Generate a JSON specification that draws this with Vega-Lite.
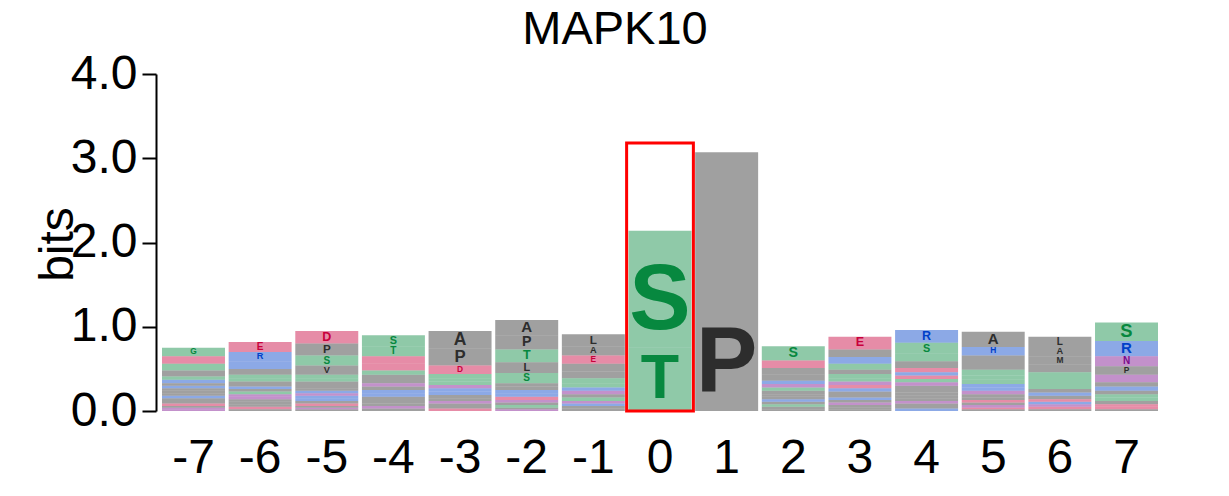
{
  "$schema": "https://vega.github.io/schema/vega-lite/v6.json",
  "width": 1008,
  "height": 337,
  "autosize": {"type": "none"},
  "padding": {"left": 156, "top": 74, "right": 65, "bottom": 85},
  "background": "white",
  "config": {"view": {"stroke": null}, "font": "Liberation Sans"},
  "title": {"text": "MAPK10", "fontSize": 47, "font": "Liberation Sans", "fontWeight": "normal", "color": "black", "anchor": "middle", "dx": -45, "baseline": "alphabetic", "offset": -41},
  "datasets": {
    "logo": [
      {"pos": -7, "aa": "G", "bits": 0.10}, {"pos": -7, "aa": "D", "bits": 0.09}, {"pos": -7, "aa": "S", "bits": 0.08}, {"pos": -7, "aa": "V", "bits": 0.07},
      {"pos": -7, "aa": "E", "bits": 0.03}, {"pos": -7, "aa": "L", "bits": 0.03}, {"pos": -7, "aa": "A", "bits": 0.03}, {"pos": -7, "aa": "K", "bits": 0.04},
      {"pos": -7, "aa": "R", "bits": 0.03}, {"pos": -7, "aa": "I", "bits": 0.03}, {"pos": -7, "aa": "P", "bits": 0.03}, {"pos": -7, "aa": "F", "bits": 0.03},
      {"pos": -7, "aa": "H", "bits": 0.03}, {"pos": -7, "aa": "N", "bits": 0.02}, {"pos": -7, "aa": "T", "bits": 0.04}, {"pos": -7, "aa": "Q", "bits": 0.02},
      {"pos": -7, "aa": "W", "bits": 0.02}, {"pos": -7, "aa": "M", "bits": 0.03},

      {"pos": -6, "aa": "E", "bits": 0.12}, {"pos": -6, "aa": "R", "bits": 0.11}, {"pos": -6, "aa": "K", "bits": 0.09}, {"pos": -6, "aa": "L", "bits": 0.07},
      {"pos": -6, "aa": "D", "bits": 0.03}, {"pos": -6, "aa": "P", "bits": 0.03}, {"pos": -6, "aa": "S", "bits": 0.04}, {"pos": -6, "aa": "V", "bits": 0.03},
      {"pos": -6, "aa": "A", "bits": 0.03}, {"pos": -6, "aa": "N", "bits": 0.03}, {"pos": -6, "aa": "Q", "bits": 0.03}, {"pos": -6, "aa": "G", "bits": 0.04},
      {"pos": -6, "aa": "T", "bits": 0.03}, {"pos": -6, "aa": "I", "bits": 0.03}, {"pos": -6, "aa": "W", "bits": 0.02}, {"pos": -6, "aa": "H", "bits": 0.03},
      {"pos": -6, "aa": "F", "bits": 0.03}, {"pos": -6, "aa": "M", "bits": 0.03},

      {"pos": -5, "aa": "D", "bits": 0.15}, {"pos": -5, "aa": "P", "bits": 0.14}, {"pos": -5, "aa": "S", "bits": 0.12}, {"pos": -5, "aa": "V", "bits": 0.11},
      {"pos": -5, "aa": "L", "bits": 0.04}, {"pos": -5, "aa": "A", "bits": 0.04}, {"pos": -5, "aa": "E", "bits": 0.03}, {"pos": -5, "aa": "I", "bits": 0.03},
      {"pos": -5, "aa": "G", "bits": 0.04}, {"pos": -5, "aa": "K", "bits": 0.03}, {"pos": -5, "aa": "T", "bits": 0.04}, {"pos": -5, "aa": "R", "bits": 0.03},
      {"pos": -5, "aa": "F", "bits": 0.02}, {"pos": -5, "aa": "Q", "bits": 0.02}, {"pos": -5, "aa": "N", "bits": 0.03}, {"pos": -5, "aa": "H", "bits": 0.03},
      {"pos": -5, "aa": "M", "bits": 0.03}, {"pos": -5, "aa": "W", "bits": 0.02},

      {"pos": -4, "aa": "S", "bits": 0.13}, {"pos": -4, "aa": "T", "bits": 0.12}, {"pos": -4, "aa": "D", "bits": 0.09}, {"pos": -4, "aa": "E", "bits": 0.08},
      {"pos": -4, "aa": "A", "bits": 0.05}, {"pos": -4, "aa": "P", "bits": 0.05}, {"pos": -4, "aa": "L", "bits": 0.04}, {"pos": -4, "aa": "G", "bits": 0.05},
      {"pos": -4, "aa": "V", "bits": 0.04}, {"pos": -4, "aa": "K", "bits": 0.04}, {"pos": -4, "aa": "R", "bits": 0.04}, {"pos": -4, "aa": "I", "bits": 0.04},
      {"pos": -4, "aa": "N", "bits": 0.04}, {"pos": -4, "aa": "F", "bits": 0.03}, {"pos": -4, "aa": "Q", "bits": 0.03}, {"pos": -4, "aa": "M", "bits": 0.03},

      {"pos": -3, "aa": "A", "bits": 0.21}, {"pos": -3, "aa": "P", "bits": 0.20}, {"pos": -3, "aa": "D", "bits": 0.10}, {"pos": -3, "aa": "S", "bits": 0.05},
      {"pos": -3, "aa": "L", "bits": 0.04}, {"pos": -3, "aa": "K", "bits": 0.04}, {"pos": -3, "aa": "R", "bits": 0.04}, {"pos": -3, "aa": "N", "bits": 0.04},
      {"pos": -3, "aa": "E", "bits": 0.03}, {"pos": -3, "aa": "G", "bits": 0.04}, {"pos": -3, "aa": "T", "bits": 0.04}, {"pos": -3, "aa": "V", "bits": 0.03},
      {"pos": -3, "aa": "I", "bits": 0.03}, {"pos": -3, "aa": "Q", "bits": 0.03}, {"pos": -3, "aa": "F", "bits": 0.03},

      {"pos": -2, "aa": "A", "bits": 0.18}, {"pos": -2, "aa": "P", "bits": 0.17}, {"pos": -2, "aa": "T", "bits": 0.15}, {"pos": -2, "aa": "L", "bits": 0.13},
      {"pos": -2, "aa": "S", "bits": 0.12}, {"pos": -2, "aa": "E", "bits": 0.04}, {"pos": -2, "aa": "K", "bits": 0.04}, {"pos": -2, "aa": "R", "bits": 0.04},
      {"pos": -2, "aa": "M", "bits": 0.04}, {"pos": -2, "aa": "W", "bits": 0.04}, {"pos": -2, "aa": "G", "bits": 0.03}, {"pos": -2, "aa": "V", "bits": 0.03},
      {"pos": -2, "aa": "N", "bits": 0.03}, {"pos": -2, "aa": "Q", "bits": 0.02}, {"pos": -2, "aa": "I", "bits": 0.02},

      {"pos": -1, "aa": "L", "bits": 0.14}, {"pos": -1, "aa": "A", "bits": 0.11}, {"pos": -1, "aa": "E", "bits": 0.10}, {"pos": -1, "aa": "P", "bits": 0.09},
      {"pos": -1, "aa": "V", "bits": 0.08}, {"pos": -1, "aa": "S", "bits": 0.06}, {"pos": -1, "aa": "G", "bits": 0.05}, {"pos": -1, "aa": "T", "bits": 0.04},
      {"pos": -1, "aa": "M", "bits": 0.04}, {"pos": -1, "aa": "N", "bits": 0.04}, {"pos": -1, "aa": "K", "bits": 0.04}, {"pos": -1, "aa": "W", "bits": 0.03},
      {"pos": -1, "aa": "I", "bits": 0.03}, {"pos": -1, "aa": "R", "bits": 0.03}, {"pos": -1, "aa": "Q", "bits": 0.03},

      {"pos": 0, "aa": "S", "bits": 1.39}, {"pos": 0, "aa": "T", "bits": 0.75},

      {"pos": 1, "aa": "P", "bits": 3.07},

      {"pos": 2, "aa": "S", "bits": 0.17}, {"pos": 2, "aa": "E", "bits": 0.09}, {"pos": 2, "aa": "L", "bits": 0.08}, {"pos": 2, "aa": "P", "bits": 0.07},
      {"pos": 2, "aa": "A", "bits": 0.04}, {"pos": 2, "aa": "G", "bits": 0.04}, {"pos": 2, "aa": "I", "bits": 0.03}, {"pos": 2, "aa": "T", "bits": 0.03},
      {"pos": 2, "aa": "Q", "bits": 0.04}, {"pos": 2, "aa": "R", "bits": 0.04}, {"pos": 2, "aa": "V", "bits": 0.03}, {"pos": 2, "aa": "K", "bits": 0.03},
      {"pos": 2, "aa": "F", "bits": 0.03}, {"pos": 2, "aa": "M", "bits": 0.03}, {"pos": 2, "aa": "W", "bits": 0.02},

      {"pos": 3, "aa": "E", "bits": 0.15}, {"pos": 3, "aa": "P", "bits": 0.09}, {"pos": 3, "aa": "R", "bits": 0.08}, {"pos": 3, "aa": "S", "bits": 0.07},
      {"pos": 3, "aa": "G", "bits": 0.05}, {"pos": 3, "aa": "L", "bits": 0.05}, {"pos": 3, "aa": "A", "bits": 0.04}, {"pos": 3, "aa": "K", "bits": 0.04},
      {"pos": 3, "aa": "D", "bits": 0.04}, {"pos": 3, "aa": "I", "bits": 0.03}, {"pos": 3, "aa": "N", "bits": 0.04}, {"pos": 3, "aa": "Q", "bits": 0.03},
      {"pos": 3, "aa": "T", "bits": 0.04}, {"pos": 3, "aa": "V", "bits": 0.03}, {"pos": 3, "aa": "H", "bits": 0.03}, {"pos": 3, "aa": "F", "bits": 0.03},
      {"pos": 3, "aa": "M", "bits": 0.02}, {"pos": 3, "aa": "W", "bits": 0.02},

      {"pos": 4, "aa": "R", "bits": 0.15}, {"pos": 4, "aa": "S", "bits": 0.13}, {"pos": 4, "aa": "G", "bits": 0.09}, {"pos": 4, "aa": "P", "bits": 0.08},
      {"pos": 4, "aa": "E", "bits": 0.05}, {"pos": 4, "aa": "L", "bits": 0.04}, {"pos": 4, "aa": "I", "bits": 0.04}, {"pos": 4, "aa": "A", "bits": 0.04},
      {"pos": 4, "aa": "N", "bits": 0.04}, {"pos": 4, "aa": "T", "bits": 0.04}, {"pos": 4, "aa": "K", "bits": 0.03}, {"pos": 4, "aa": "V", "bits": 0.03},
      {"pos": 4, "aa": "W", "bits": 0.03}, {"pos": 4, "aa": "Q", "bits": 0.03}, {"pos": 4, "aa": "F", "bits": 0.03}, {"pos": 4, "aa": "M", "bits": 0.03},
      {"pos": 4, "aa": "D", "bits": 0.04}, {"pos": 4, "aa": "H", "bits": 0.04},

      {"pos": 5, "aa": "A", "bits": 0.18}, {"pos": 5, "aa": "H", "bits": 0.10}, {"pos": 5, "aa": "L", "bits": 0.09}, {"pos": 5, "aa": "P", "bits": 0.08},
      {"pos": 5, "aa": "S", "bits": 0.07}, {"pos": 5, "aa": "G", "bits": 0.05}, {"pos": 5, "aa": "T", "bits": 0.05}, {"pos": 5, "aa": "V", "bits": 0.04},
      {"pos": 5, "aa": "N", "bits": 0.04}, {"pos": 5, "aa": "K", "bits": 0.04}, {"pos": 5, "aa": "R", "bits": 0.04}, {"pos": 5, "aa": "Q", "bits": 0.03},
      {"pos": 5, "aa": "I", "bits": 0.03}, {"pos": 5, "aa": "E", "bits": 0.03}, {"pos": 5, "aa": "M", "bits": 0.02}, {"pos": 5, "aa": "D", "bits": 0.02},
      {"pos": 5, "aa": "F", "bits": 0.03},

      {"pos": 6, "aa": "L", "bits": 0.12}, {"pos": 6, "aa": "A", "bits": 0.11}, {"pos": 6, "aa": "M", "bits": 0.10}, {"pos": 6, "aa": "P", "bits": 0.09},
      {"pos": 6, "aa": "S", "bits": 0.08}, {"pos": 6, "aa": "T", "bits": 0.07}, {"pos": 6, "aa": "G", "bits": 0.05}, {"pos": 6, "aa": "I", "bits": 0.04},
      {"pos": 6, "aa": "K", "bits": 0.04}, {"pos": 6, "aa": "V", "bits": 0.04}, {"pos": 6, "aa": "E", "bits": 0.03}, {"pos": 6, "aa": "Q", "bits": 0.03},
      {"pos": 6, "aa": "R", "bits": 0.03}, {"pos": 6, "aa": "D", "bits": 0.03}, {"pos": 6, "aa": "F", "bits": 0.02},

      {"pos": 7, "aa": "S", "bits": 0.22}, {"pos": 7, "aa": "R", "bits": 0.18}, {"pos": 7, "aa": "N", "bits": 0.12}, {"pos": 7, "aa": "P", "bits": 0.10},
      {"pos": 7, "aa": "Q", "bits": 0.09}, {"pos": 7, "aa": "K", "bits": 0.05}, {"pos": 7, "aa": "L", "bits": 0.05}, {"pos": 7, "aa": "A", "bits": 0.04},
      {"pos": 7, "aa": "T", "bits": 0.04}, {"pos": 7, "aa": "G", "bits": 0.04}, {"pos": 7, "aa": "E", "bits": 0.03}, {"pos": 7, "aa": "V", "bits": 0.04},
      {"pos": 7, "aa": "D", "bits": 0.03}, {"pos": 7, "aa": "I", "bits": 0.02}
    ],
    "box": [{"pos": 0, "top": 3.18}]
  },
  "encoding": {
    "x": {
      "field": "pos", "type": "ordinal",
      "scale": {"paddingInner": 0.055, "paddingOuter": 0.09},
      "axis": {"title": null, "labelAngle": 0, "labelFontSize": 48, "labelFont": "Liberation Sans", "labelColor": "black", "domain": false, "ticks": false, "tickSize": 0, "labelPadding": 23}
    }
  },
  "layer": [
    {
      "data": {"name": "logo"},
      "transform": [{"stack": "bits", "groupby": ["pos"], "sort": [{"field": "bits", "order": "ascending"}], "as": ["y0", "y1"]}],
      "mark": {"type": "bar", "opacity": 0.45},
      "encoding": {
        "y": {
          "field": "y0", "type": "quantitative", "scale": {"domain": [0, 4]},
          "axis": {"title": "bits", "values": [0, 1, 2, 3, 4], "format": ".1f", "labelFontSize": 48, "labelFont": "Liberation Sans", "labelColor": "black",
            "titleFontSize": 48, "titleFont": "Liberation Sans", "titleFontWeight": "normal", "titleColor": "black", "titleBaseline": "alphabetic", "titleX": -84, "titleY": 170, "titleAngle": -90,
            "tickSize": 14, "tickWidth": 2, "tickColor": "black", "domainWidth": 2, "domainColor": "black", "labelPadding": 5, "grid": false}
        },
        "y2": {"field": "y1"},
        "color": {"field": "aa", "type": "nominal", "legend": null,
          "scale": {
            "domain": ["A", "C", "D", "E", "F", "G", "H", "I", "K", "L", "M", "N", "P", "Q", "R", "S", "T", "V", "W", "Y"],
            "range": ["#2D2D2D", "#07883F", "#C8003C", "#C8003C", "#2D2D2D", "#07883F", "#0040C8", "#2D2D2D", "#0040C8", "#2D2D2D", "#2D2D2D", "#7B0A8C", "#2D2D2D", "#7B0A8C", "#0040C8", "#07883F", "#07883F", "#2D2D2D", "#2D2D2D", "#07883F"]
          }
        }
      }
    },
    {
      "data": {"name": "logo"},
      "transform": [
        {"stack": "bits", "groupby": ["pos"], "sort": [{"field": "bits", "order": "ascending"}], "as": ["y0", "y1"]},
        {"filter": "datum.bits >= 0.1"}
      ],
      "mark": {"type": "text", "baseline": "bottom", "fontWeight": "bold", "font": "Liberation Sans"},
      "encoding": {
        "y": {"field": "y0", "type": "quantitative"},
        "text": {"field": "aa"},
        "size": {"field": "bits", "type": "quantitative", "legend": null, "scale": {"domain": [0, 1.1], "range": [0, 92], "clamp": true}},
        "color": {"field": "aa", "type": "nominal", "legend": null}
      }
    },
    {
      "data": {"name": "box"},
      "mark": {"type": "bar", "fill": "transparent", "stroke": "#FF0000", "strokeWidth": 3, "width": {"band": 1.06}},
      "encoding": {
        "y": {"field": "top", "type": "quantitative"}
      }
    }
  ]
}
